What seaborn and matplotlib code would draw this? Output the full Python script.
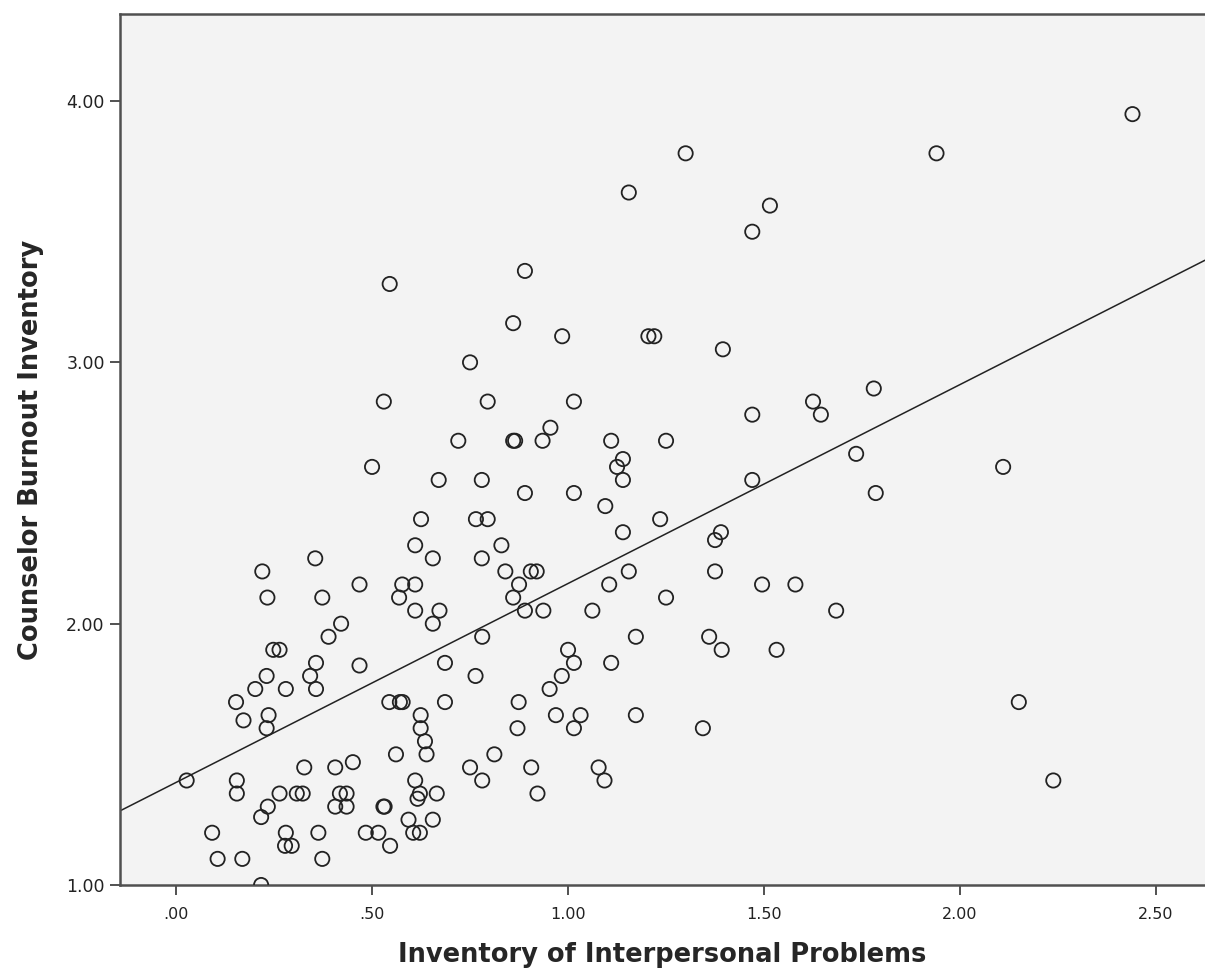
import pandas as pd
import matplotlib
matplotlib.use("Agg")
import matplotlib.pyplot as plt
import seaborn as sns
from matplotlib.ticker import FuncFormatter

# Inventory of Interpersonal Problems (x) and Counselor Burnout Inventory (y)
iip = [
    2.44, 1.94, 1.30, 1.155, 1.515, 1.47, 0.89, 0.545, 0.86, 0.985,
    1.205, 1.22, 1.395, 0.75, 1.78, 0.53, 0.795, 1.015, 1.625, 1.47,
    1.645, 0.955, 0.72, 0.86, 0.865, 0.935, 1.11, 1.25, 1.735, 1.14,
    0.50, 1.125, 2.11, 0.67, 0.78, 1.14, 1.47, 0.89, 1.015, 1.785,
    1.095, 0.625, 0.765, 0.795, 1.235, 1.14, 1.39, 1.375, 0.61, 0.83,
    0.355, 0.655, 0.78, 1.155, 0.22, 0.84, 0.905, 0.92, 1.375, 0.468,
    0.577, 0.61, 0.875, 1.105, 1.495, 1.58, 0.233, 0.373, 0.569, 0.86,
    1.25, 0.61, 0.672, 0.89, 0.937, 1.062, 1.684, 0.421, 0.655, 0.389,
    0.781, 1.173, 1.36, 0.248, 0.264, 1.00, 1.392, 1.532, 0.357, 0.468,
    0.686, 1.015, 1.11, 0.231, 0.342, 0.764, 0.984, 0.202, 0.28, 0.357,
    0.953, 0.153, 0.544, 0.571, 0.578, 0.686, 0.874, 2.15, 0.236, 0.624,
    0.969, 1.032, 1.173, 0.172, 0.231, 0.624, 0.871, 1.015, 1.344, 0.635,
    0.561, 0.639, 0.812, 0.451, 0.327, 0.406, 0.75, 0.906, 1.078, 0.027,
    0.155, 0.61, 0.781, 1.093, 2.238, 0.155, 0.264, 0.308, 0.323, 0.418,
    0.435, 0.622, 0.665, 0.922, 0.616, 0.234, 0.406, 0.435, 0.529, 0.532,
    0.217, 0.593, 0.655, 0.092, 0.28, 0.363, 0.484, 0.516, 0.605, 0.622,
    0.278, 0.295, 0.546, 0.106, 0.169, 0.373, 0.217,
]
cbi = [
    3.95, 3.80, 3.80, 3.65, 3.60, 3.50, 3.35, 3.30, 3.15, 3.10,
    3.10, 3.10, 3.05, 3.00, 2.90, 2.85, 2.85, 2.85, 2.85, 2.80,
    2.80, 2.75, 2.70, 2.70, 2.70, 2.70, 2.70, 2.70, 2.65, 2.63,
    2.60, 2.60, 2.60, 2.55, 2.55, 2.55, 2.55, 2.50, 2.50, 2.50,
    2.45, 2.40, 2.40, 2.40, 2.40, 2.35, 2.35, 2.32, 2.30, 2.30,
    2.25, 2.25, 2.25, 2.20, 2.20, 2.20, 2.20, 2.20, 2.20, 2.15,
    2.15, 2.15, 2.15, 2.15, 2.15, 2.15, 2.10, 2.10, 2.10, 2.10,
    2.10, 2.05, 2.05, 2.05, 2.05, 2.05, 2.05, 2.00, 2.00, 1.95,
    1.95, 1.95, 1.95, 1.90, 1.90, 1.90, 1.90, 1.90, 1.85, 1.84,
    1.85, 1.85, 1.85, 1.80, 1.80, 1.80, 1.80, 1.75, 1.75, 1.75,
    1.75, 1.70, 1.70, 1.70, 1.70, 1.70, 1.70, 1.70, 1.65, 1.65,
    1.65, 1.65, 1.65, 1.63, 1.60, 1.60, 1.60, 1.60, 1.60, 1.55,
    1.50, 1.50, 1.50, 1.47, 1.45, 1.45, 1.45, 1.45, 1.45, 1.40,
    1.40, 1.40, 1.40, 1.40, 1.40, 1.35, 1.35, 1.35, 1.35, 1.35,
    1.35, 1.35, 1.35, 1.35, 1.33, 1.30, 1.30, 1.30, 1.30, 1.30,
    1.26, 1.25, 1.25, 1.20, 1.20, 1.20, 1.20, 1.20, 1.20, 1.20,
    1.15, 1.15, 1.15, 1.10, 1.10, 1.10, 1.00,
]

x_ticks = [0.0, 0.5, 1.0, 1.5, 2.0, 2.5]
y_ticks = [1.0, 2.0, 3.0, 4.0]


def spss_fmt(v, pos):
    s = f"{v:.2f}"
    return s[1:] if s.startswith("0") else s


df = pd.DataFrame({"iip": iip, "cbi": cbi})

sns.set_theme(style="ticks")
plt.rcParams["font.family"] = ["DejaVu Sans"]

fig = plt.figure(figsize=(12.05, 9.75), dpi=100)
ax = fig.add_axes([0.0996, 0.0923, 0.9004, 0.8933])
ax.set_facecolor("#f3f3f3")
ax.set_xlim(-0.143, 2.625)
ax.set_ylim(1.0, 4.333)

sns.regplot(
    data=df, x="iip", y="cbi", ax=ax, ci=None, truncate=False, color="black",
    scatter_kws=dict(facecolors="none", edgecolors="#222222", s=105,
                     linewidths=1.3, alpha=1, zorder=3),
    line_kws=dict(color="#222222", lw=1.1),
)

ax.set_xticks(x_ticks)
ax.set_yticks(y_ticks)
ax.xaxis.set_major_formatter(FuncFormatter(spss_fmt))
ax.yaxis.set_major_formatter(FuncFormatter(spss_fmt))
ax.tick_params(axis="both", direction="out", length=7, width=1.2,
               color="#333333", labelcolor="#222222")
ax.tick_params(axis="x", pad=9, labelsize=11.5)
ax.tick_params(axis="y", pad=4, labelsize=12.5)

for side in ["left", "bottom", "top"]:
    ax.spines[side].set_color("#505050")
    ax.spines[side].set_linewidth(1.8)
ax.spines["right"].set_visible(False)

ax.set_xlabel("Inventory of Interpersonal Problems", fontsize=18.5,
              fontweight="bold", labelpad=14)
ax.set_ylabel("Counselor Burnout Inventory", fontsize=18.5,
              fontweight="bold", labelpad=16)

plt.savefig("out.png", dpi=100)
